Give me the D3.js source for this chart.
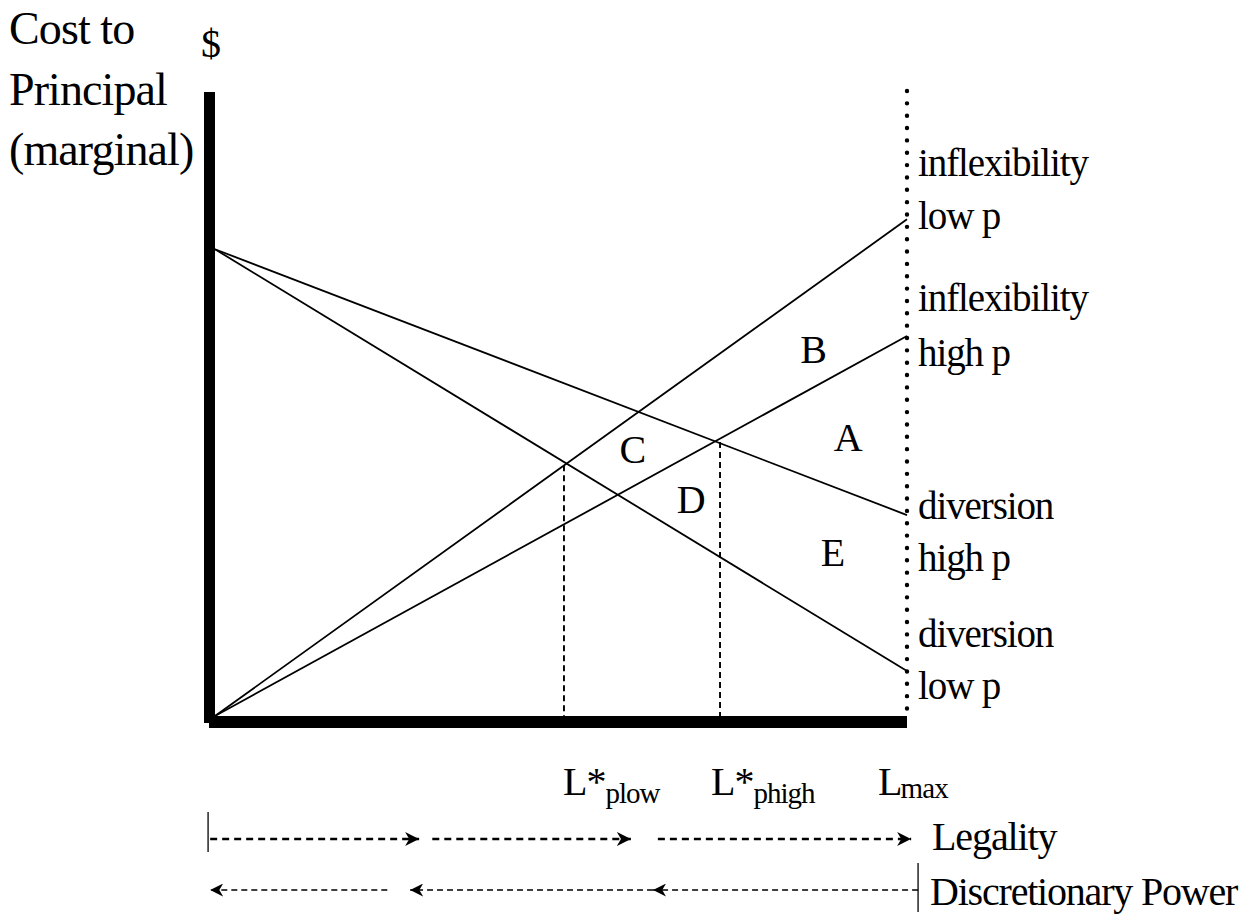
<!DOCTYPE html>
<html>
<head>
<meta charset="utf-8">
<script src="https://cdn.jsdelivr.net/npm/d3@7"></script>
<style>
  html, body { margin: 0; padding: 0; background: #fff; }
  svg { display: block; }
  text { font-family: "Liberation Serif", "Times New Roman", serif; fill: #000; }
</style>
</head>
<body>
<svg id="chart" width="1258" height="914"></svg>
<script>
// ---- data (x: 0 = origin, 1 = L max; y: marginal cost, 0..100) ----
const curveNames = ["inflexibility low p", "inflexibility high p", "diversion high p", "diversion low p"];
const curveStart = [0, 0, 74.8, 74.8];       // value at x = 0
const curveEnd   = [79.6, 60.9, 32.2, 7.2];  // value at x = L max
const lStarNames = ["plow", "phigh"];
const lStarX     = [0.5043, 0.7298];
const lStarTop   = [40.2, 43.9];
const regionLetters = ["B", "A", "C", "D", "E"];
const regionX = [0.865, 0.915, 0.604, 0.688, 0.893];
const regionY = [56.5, 42.5, 40.5, 32.5, 24.0];
const legalitySegs = [[-0.007, 0.295], [0.314, 0.601], [0.640, 1.006]];      // arrow points right
const discretionSegs = [[0.249, -0.007], [0.633, 0.282], [1.016, 0.633]];    // arrow points left

const svg = d3.select("#chart");
const x = d3.scaleLinear().domain([0, 1]).range([215, 907]);
const y = d3.scaleLinear().domain([0, 100]).range([716, 92]);

// arrow markers
const defs = svg.append("defs");
function marker(id, s) {
  defs.append("marker")
    .attr("id", id).attr("viewBox", "0 0 12 12")
    .attr("refX", 12).attr("refY", 6)
    .attr("markerWidth", s).attr("markerHeight", s)
    .attr("markerUnits", "userSpaceOnUse")
    .attr("orient", "auto")
    .append("path").attr("d", "M0,0 L12,6 L0,12 L3.5,6 Z").attr("fill", "#000");
}
marker("ahL", 14);
marker("ahD", 13);

// axes (thick bars)
svg.append("rect")
  .attr("x", x(0) - 11).attr("y", y(100))
  .attr("width", 11).attr("height", y(0) + 7 - y(100))
  .attr("fill", "#000");
svg.append("rect")
  .attr("x", x(0) - 6).attr("y", y(0))
  .attr("width", x(1) - x(0) + 6).attr("height", 12)
  .attr("fill", "#000");

// dotted L max line
svg.append("line")
  .attr("x1", x(1)).attr("x2", x(1))
  .attr("y1", y(100) - 1).attr("y2", y(0))
  .attr("stroke", "#000").attr("stroke-width", 4.4)
  .attr("stroke-linecap", "round")
  .attr("stroke-dasharray", "0 12.35");

// dashed L* lines
svg.selectAll(".lstar").data(lStarX).join("line")
  .attr("class", "lstar")
  .attr("x1", d => x(d)).attr("x2", d => x(d))
  .attr("y1", (d, i) => y(lStarTop[i])).attr("y2", y(0))
  .attr("stroke", "#000").attr("stroke-width", 1.9)
  .attr("stroke-dasharray", "6 4");

// curves
const line = d3.line().x(d => x(d[0])).y(d => y(d[1]));
svg.selectAll(".curve").data(curveNames).join("path")
  .attr("class", "curve")
  .attr("d", (d, i) => line([[0, curveStart[i]], [1, curveEnd[i]]]))
  .attr("fill", "none").attr("stroke", "#000").attr("stroke-width", 1.8);

// curve labels on the right
const labelY = [[176, 229], [311, 366], [519, 571], [647, 699]];
curveNames.forEach((name, i) => {
  const parts = [name.split(" ")[0], name.split(" ").slice(1).join(" ")];
  parts.forEach((p, j) => {
    svg.append("text")
      .attr("x", x(1) + 11).attr("y", labelY[i][j])
      .attr("font-size", 39).attr("letter-spacing", -1.1)
      .text(p);
  });
});

// region letters
svg.selectAll(".region").data(regionLetters).join("text")
  .attr("class", "region")
  .attr("x", (d, i) => x(regionX[i])).attr("y", (d, i) => y(regionY[i]))
  .attr("text-anchor", "middle").attr("font-size", 40)
  .text(d => d);

// y axis title
const yTitle = ["Cost to", "Principal", "(marginal)"];
svg.selectAll(".ytitle").data(yTitle).join("text")
  .attr("class", "ytitle")
  .attr("x", 9).attr("y", (d, i) => 44 + i * 60.5)
  .attr("font-size", 46).attr("letter-spacing", -0.9)
  .text(d => d);
svg.append("text").attr("x", x(0) - 4).attr("y", 57)
  .attr("text-anchor", "middle").attr("font-size", 40).text("$");

// x axis labels L*
const lLabelX = [563, 711];
lStarNames.forEach((n, i) => {
  const t = svg.append("text").attr("x", lLabelX[i]).attr("y", 795)
    .attr("font-size", 40).attr("letter-spacing", -1);
  t.append("tspan").text("L*");
  t.append("tspan").attr("dy", 8).attr("font-size", 29).attr("letter-spacing", -1).text(n);
});
const tm = svg.append("text").attr("x", x(1) - 29).attr("y", 795)
  .attr("font-size", 40).attr("letter-spacing", -1);
tm.append("tspan").text("L");
tm.append("tspan").attr("dx", -1).attr("dy", 3).attr("font-size", 29).attr("letter-spacing", -0.8).text("max");

// bottom arrows
const rowL = 839, rowD = 890;
svg.append("line").attr("x1", x(-0.01)).attr("x2", x(-0.01))
  .attr("y1", rowL - 27).attr("y2", rowL + 13).attr("stroke", "#000").attr("stroke-width", 1.3);
svg.selectAll(".legal").data(legalitySegs).join("line")
  .attr("class", "legal")
  .attr("x1", d => x(d[0])).attr("x2", d => x(d[1]))
  .attr("y1", rowL).attr("y2", rowL)
  .attr("stroke", "#000").attr("stroke-width", 2.3)
  .attr("stroke-dasharray", "7 5")
  .attr("marker-end", "url(#ahL)");
svg.append("text").attr("x", 932).attr("y", 850).attr("font-size", 40)
  .attr("letter-spacing", -1.1).text("Legality");

svg.append("line").attr("x1", x(1.016)).attr("x2", x(1.016))
  .attr("y1", rowD - 27).attr("y2", rowD + 22).attr("stroke", "#000").attr("stroke-width", 1.3);
svg.selectAll(".disc").data(discretionSegs).join("line")
  .attr("class", "disc")
  .attr("x1", d => x(d[0])).attr("x2", d => x(d[1]))
  .attr("y1", rowD).attr("y2", rowD)
  .attr("stroke", "#000").attr("stroke-width", 1.5)
  .attr("stroke-dasharray", "6 4")
  .attr("marker-end", "url(#ahD)");
svg.append("text").attr("x", 930).attr("y", 905).attr("font-size", 40)
  .attr("letter-spacing", -1.2).text("Discretionary Power");
</script>
</body>
</html>
